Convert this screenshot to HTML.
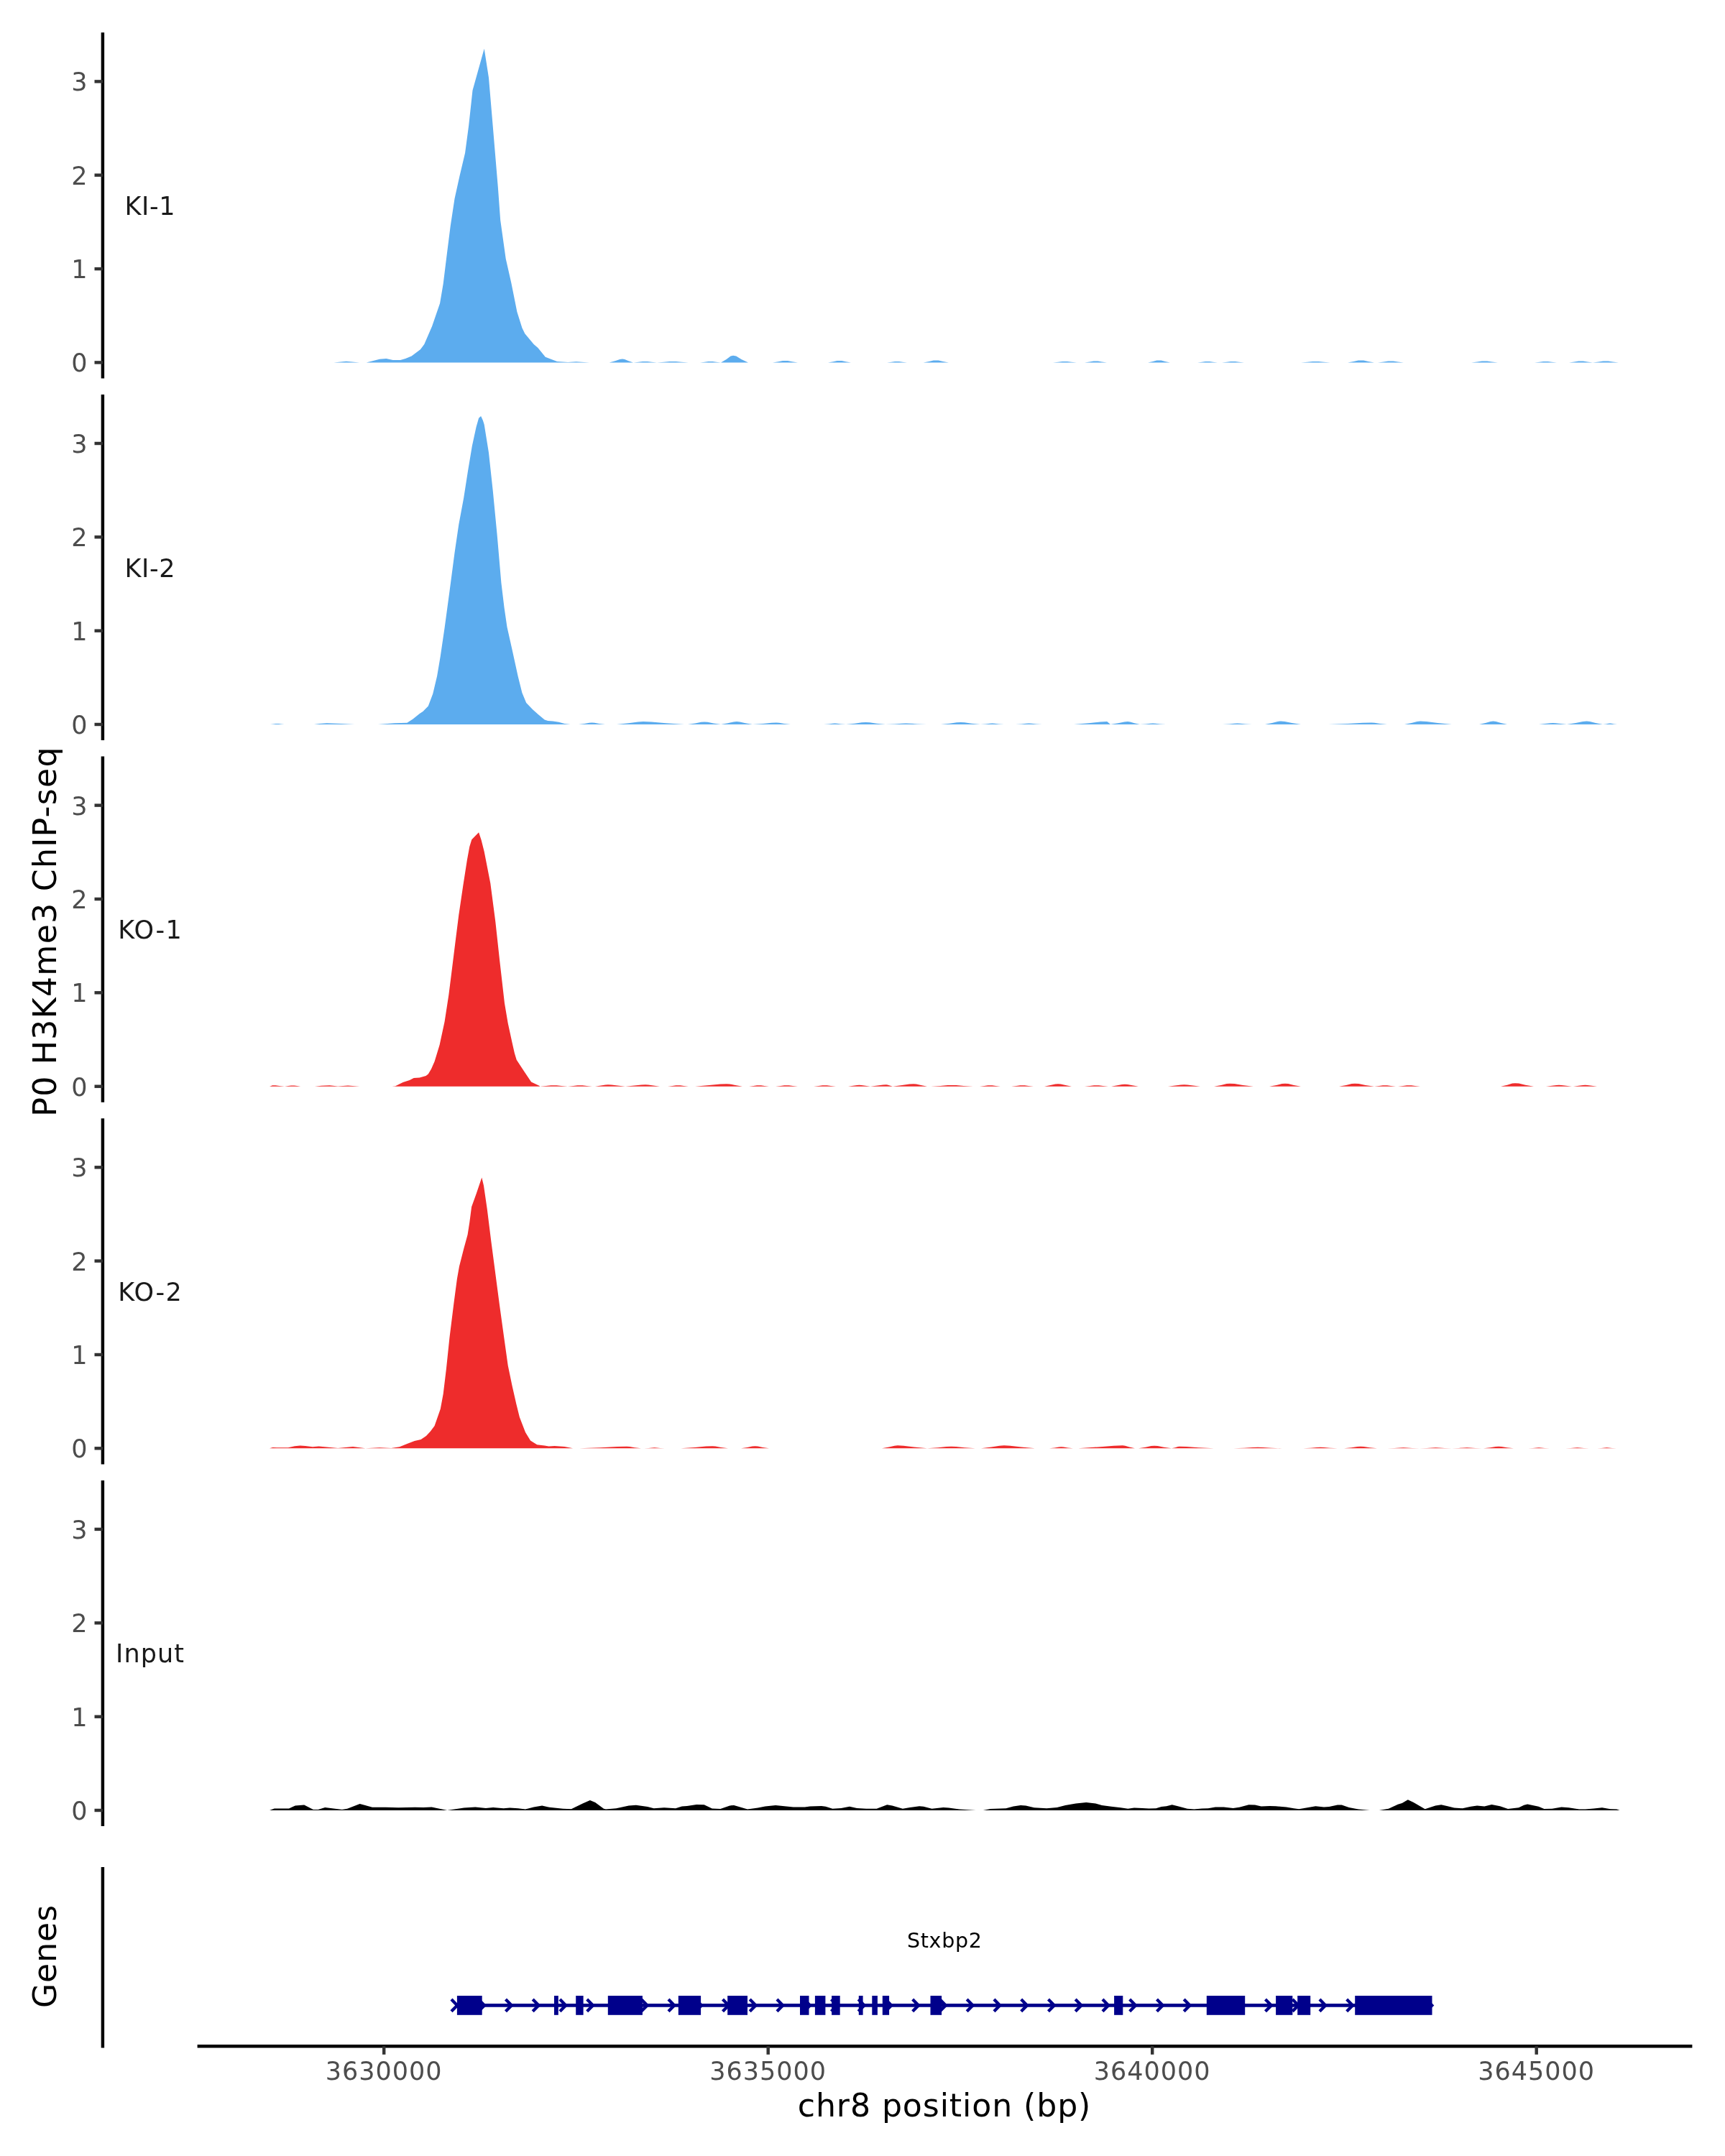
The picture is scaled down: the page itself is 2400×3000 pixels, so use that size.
<!DOCTYPE html>
<html lang="en">
<head>
<meta charset="utf-8">
<title>P0 H3K4me3 ChIP-seq - chr8 Stxbp2 locus</title>
<style>
html,body{margin:0;padding:0;background:#fff;}
body{width:2400px;height:3000px;overflow:hidden;}
svg{display:block;will-change:transform;}
text{font-family:"DejaVu Sans", "Liberation Sans", sans-serif;}
.tick{fill:#4D4D4D;font-size:35.0px;}
.xt{letter-spacing:1px;}
.lab{fill:#1A1A1A;font-size:35.0px;letter-spacing:0.6px;}
.ttl{fill:#000;font-size:44.2px;letter-spacing:0.9px;}
.gene{fill:#000;font-size:28.5px;letter-spacing:0.72px;}
.ax{stroke:#000;stroke-width:4.45;fill:none;}
.tk{stroke:#333;stroke-width:4.45;fill:none;}
</style>
</head>
<body>
<svg width="2400" height="3000" viewBox="0 0 2400 3000">
<rect width="2400" height="3000" fill="#fff"/>
<!-- track KI-1 -->
<g>
<path d="M464.3,504.4L464.3,504.4L481.7,502.8L500.3,504.4L509.6,504.4L528.1,499.8L537.4,499.1L546.7,500.9L557.1,500.9L564.1,499.1L572.6,495.6L584.9,486.3L590.3,478.9L601.2,453.8L612.1,422.1L616.7,394.7L621.3,357.6L626.7,314.7L632.5,276.5L639.4,245.2L647.1,212.7L652.2,174.4L657.5,125.7L673.7,67.8L680,108.3L685.8,176.7L692.8,260.2L696.2,306.6L703.7,359.9L711.3,393.6L719.4,434.1L726.4,456.2L730.3,464.3L742.6,478.9L748.4,484L758.8,496.7L775.1,503L790.1,503.9L801.7,503.2L820.3,504.4L847.6,504.4L855.9,502.2L862.3,500L866,499.6L869.1,500L874.5,502.2L881,504.4L881.5,504.4L888.4,503.7L894.2,503L897.5,502.9L900.8,503L906.6,503.7L914,504.4L914,504.4L923.9,503.7L931.6,503L936,502.9L940.4,503L948.1,503.7L958,504.4L974,504.4L980.5,503.7L985.6,503L988.5,502.9L991.4,503L996.5,503.7L1003,504.4L1003,504.4L1010.6,500L1016.6,495.5L1020,494.7L1024.2,495.5L1031.5,500L1041,504.4L1075,504.4L1082.9,503.3L1089,502.1L1092.5,501.9L1096,502.1L1102.1,503.3L1110,504.4L1152,504.4L1159.2,503.3L1164.8,502.1L1168,501.9L1171.2,502.1L1176.8,503.3L1184,504.4L1234,504.4L1240.3,503.7L1245.2,503L1248,502.9L1250.8,503L1255.7,503.7L1262,504.4L1284.6,504.4L1292.6,503.1L1298.8,501.6L1302.3,501.4L1305.8,501.6L1312,503.1L1320,504.4L1465,504.4L1472.4,503.7L1478.2,503L1481.5,502.9L1484.8,503L1490.6,503.7L1498,504.4L1509,504.4L1516,503.5L1521.4,502.6L1524.5,502.4L1527.6,502.6L1533,503.5L1540,504.4L1597,504.4L1604,503.1L1609.4,501.6L1612.5,501.4L1615.6,501.6L1621,503.1L1628,504.4L1666,504.4L1672.3,503.7L1677.2,503L1680,502.9L1682.8,503L1687.7,503.7L1694,504.4L1700,504.4L1707,503.7L1712.4,503L1715.5,502.9L1718.6,503L1724,503.7L1731,504.4L1810,504.4L1819.2,503.7L1826.4,503L1830.5,502.9L1834.6,503L1841.8,503.7L1851,504.4L1875,504.4L1883.3,503.1L1889.8,501.6L1893.5,501.4L1897.2,501.6L1903.7,503.1L1912,504.4L1917,504.4L1925.1,503.5L1931.4,502.6L1935,502.4L1938.6,502.6L1944.9,503.5L1953,504.4L2047,504.4L2055.3,503.5L2061.8,502.6L2065.5,502.4L2069.2,502.6L2075.7,503.5L2084,504.4L2135,504.4L2142,503.7L2147.4,503L2150.5,502.9L2153.6,503L2159,503.7L2166,504.4L2183,504.4L2190.4,503.5L2196.2,502.6L2199.5,502.4L2202.8,502.6L2208.6,503.5L2216,504.4L2216,504.4L2224.1,503.5L2230.4,502.6L2234,502.4L2237.6,502.6L2243.9,503.5L2252,504.4L2252,504.4Z" fill="#5CACEE"/>
<line class="ax" x1="142.9" y1="45.3" x2="142.9" y2="526.5"/>
<line class="tk" x1="131.5" y1="504.4" x2="142.9" y2="504.4"/>
<text class="tick" x="121.6" y="517.4" text-anchor="end">0</text>
<line class="tk" x1="131.5" y1="374.1" x2="142.9" y2="374.1"/>
<text class="tick" x="121.6" y="387.1" text-anchor="end">1</text>
<line class="tk" x1="131.5" y1="243.7" x2="142.9" y2="243.7"/>
<text class="tick" x="121.6" y="256.7" text-anchor="end">2</text>
<line class="tk" x1="131.5" y1="113.4" x2="142.9" y2="113.4"/>
<text class="tick" x="121.6" y="126.4" text-anchor="end">3</text>
<text class="lab" style="letter-spacing:0.6px" x="208.8" y="299" text-anchor="middle">KI-1</text>
</g>
<!-- track KI-2 -->
<g>
<path d="M376,1008L376,1008L380.4,1007.6L383.8,1007.1L385.8,1007L387.7,1007.1L391.1,1007.6L395.5,1008L437,1008L444.6,1006.9L454.6,1006.2L474.8,1007.1L493.3,1008L525.8,1008L549,1006.2L566.4,1005.7L574.5,1000.6L583.8,993L588.4,990L595.8,982.5L602.3,965.2L608.1,940.8L612.8,913L618.6,873.6L625.5,822.5L632.5,769.2L638.3,729.8L645.2,692.7L651,655.6L656.8,620.8L662.6,594.1L666.1,581.8L669.1,579.1L671.9,584.9L673.7,590.7L680,630.1L685.8,683.4L691.6,743.7L697.4,810.9L701.6,845.7L705.5,872.4L712.5,903.7L720.6,940.8L726.4,964L732.2,977.9L741.4,987.6L748.4,993.7L757.7,1001.6L762.3,1002.9L769.3,1003.4L777.4,1004.8L785.5,1007.1L793.6,1008L805,1008L813.3,1006.9L819.8,1005.8L823.5,1005.5L827.2,1005.8L833.7,1006.9L842,1008L858,1008L874.6,1006.2L887.6,1004.4L895,1004L906.4,1004.4L926.4,1006.2L952,1008L957,1008L967.4,1006.5L975.4,1004.8L980,1004.5L984.6,1004.8L992.6,1006.5L1003,1008L1003,1008L1012.9,1006.2L1020.6,1004.4L1025,1004L1029.4,1004.4L1037.1,1006.2L1047,1008L1047,1008L1061.8,1006.9L1073.4,1005.8L1080,1005.5L1084,1005.8L1091,1006.9L1100,1008L1146,1008L1153,1007.4L1158.4,1006.7L1161.5,1006.5L1164.6,1006.7L1170,1007.4L1177,1008L1177,1008L1189.4,1006.7L1199,1005.3L1204.5,1005L1210,1005.3L1219.6,1006.7L1232,1008L1232,1008L1244.8,1007.4L1254.8,1006.7L1260.5,1006.5L1266.2,1006.7L1276.2,1007.4L1289,1008L1309,1008L1321.4,1006.7L1331,1005.3L1336.5,1005L1342,1005.3L1351.6,1006.7L1364,1008L1364,1008L1371.4,1007.4L1377.2,1006.7L1380.5,1006.5L1383.8,1006.7L1389.6,1007.4L1397,1008L1413,1008L1421.3,1007.4L1427.8,1006.7L1431.5,1006.5L1435.2,1006.7L1441.7,1007.4L1450,1008L1494,1008L1514.7,1006.2L1530.8,1004.4L1540,1004L1541,1004.4L1542.8,1006.2L1545,1008L1545,1008L1555.8,1006.2L1564.2,1004.4L1569,1004L1572.4,1004.4L1578.3,1006.2L1586,1008L1586,1008L1594.1,1007.4L1600.4,1006.7L1604,1006.5L1607.6,1006.7L1613.9,1007.4L1622,1008L1701,1008L1710.2,1007.4L1717.4,1006.7L1721.5,1006.5L1725.6,1006.7L1732.8,1007.4L1742,1008L1760,1008L1769.9,1006L1777.6,1003.9L1782,1003.5L1787.6,1003.9L1797.4,1006L1810,1008L1848,1008L1875,1006.9L1896,1005.8L1908,1005.5L1912.4,1005.8L1920.1,1006.9L1930,1008L1954,1008L1963.9,1006L1971.6,1003.9L1976,1003.5L1984.8,1003.9L2000.2,1006L2020,1008L2058,1008L2066.8,1006L2073.6,1003.9L2077.5,1003.5L2081.4,1003.9L2088.2,1006L2097,1008L2141,1008L2149.8,1007.1L2156.6,1006.2L2160.5,1006L2164.4,1006.2L2171.2,1007.1L2180,1008L2180,1008L2192.4,1006L2202.1,1003.9L2207.6,1003.5L2212.1,1003.9L2219.9,1006L2230,1008L2230,1008L2234.5,1007.4L2238,1006.7L2240,1006.5L2242,1006.7L2245.5,1007.4L2250,1008L2250,1008Z" fill="#5CACEE"/>
<line class="ax" x1="142.9" y1="548.9" x2="142.9" y2="1030.1"/>
<line class="tk" x1="131.5" y1="1008" x2="142.9" y2="1008"/>
<text class="tick" x="121.6" y="1021" text-anchor="end">0</text>
<line class="tk" x1="131.5" y1="877.7" x2="142.9" y2="877.7"/>
<text class="tick" x="121.6" y="890.7" text-anchor="end">1</text>
<line class="tk" x1="131.5" y1="747.3" x2="142.9" y2="747.3"/>
<text class="tick" x="121.6" y="760.3" text-anchor="end">2</text>
<line class="tk" x1="131.5" y1="617" x2="142.9" y2="617"/>
<text class="tick" x="121.6" y="630" text-anchor="end">3</text>
<text class="lab" style="letter-spacing:0.6px" x="208.8" y="802.5" text-anchor="middle">KI-2</text>
</g>
<!-- track KO-1 -->
<g>
<path d="M375,1511.7L375,1511.7L377.2,1511L379,1510.3L380,1510.2L383.2,1510.3L388.8,1511L396,1511.7L396,1511.7L401,1511.1L405,1510.5L407.2,1510.4L409.4,1510.5L413.4,1511.1L418.4,1511.7L437.9,1511.7L447,1510.8L458.6,1510.3L470.1,1511.5L484.1,1510.5L500.3,1511.7L545.5,1511.7L550.1,1511.2L560.6,1506.1L569.9,1503.1L575.7,1500.1L583.8,1499.4L592.6,1497.1L595.8,1494.5L600,1487.6L604.6,1477.1L611.6,1454L618.6,1421.5L624.3,1384.4L629,1347.3L633.6,1310.2L638.3,1273.1L644.1,1233.7L649.9,1196.6L653.3,1178L656.3,1168.3L666.1,1158.3L669.6,1168.7L673.7,1185L682.3,1229L689.3,1282.4L695.1,1335.7L702,1396L706.7,1423.8L712.5,1450.5L715.9,1465.6L718.7,1474.8L728.7,1489.9L739.1,1505.4L750.7,1511L751,1511.7L759.8,1511L766.6,1510.3L770.5,1510.2L774.4,1510.3L781.2,1511L790,1511.7L790,1511.7L797.6,1511L803.6,1510.3L807,1510.2L810.4,1510.3L816.4,1511L824,1511.7L828,1511.7L836.1,1510.6L842.4,1509.4L846,1509.2L850.8,1509.4L859.2,1510.6L870,1511.7L870,1511.7L882.6,1510.6L892.4,1509.4L898,1509.2L902,1509.4L909,1510.6L918,1511.7L929,1511.7L935.5,1511L940.6,1510.3L943.5,1510.2L946.4,1510.3L951.5,1511L958,1511.7L967,1511.7L986.8,1510.1L1002.2,1508.5L1011,1508.2L1015.4,1508.5L1023.1,1510.1L1033,1511.7L1042,1511.7L1048.3,1511L1053.2,1510.3L1056,1510.2L1058.8,1510.3L1063.7,1511L1070,1511.7L1079,1511.7L1086,1511L1091.4,1510.3L1094.5,1510.2L1097.6,1510.3L1103,1511L1110,1511.7L1132,1511.7L1139,1511L1144.4,1510.3L1147.5,1510.2L1150.6,1510.3L1156,1511L1163,1511.7L1180,1511.7L1187,1510.8L1192.4,1509.9L1195.5,1509.7L1198.6,1509.9L1204,1510.8L1211,1511.7L1211,1511.7L1220.9,1510.6L1228.6,1509.4L1233,1509.2L1234.8,1509.4L1238,1510.6L1242,1511.7L1242,1511.7L1255,1510.1L1265.2,1508.5L1271,1508.2L1274.8,1508.5L1281.5,1510.1L1290,1511.7L1295,1511.7L1308.3,1510.9L1318.6,1510L1324.5,1509.9L1330.4,1510L1340.7,1510.9L1354,1511.7L1363,1511.7L1369.5,1511L1374.6,1510.3L1377.5,1510.2L1380.4,1510.3L1385.5,1511L1392,1511.7L1407,1511.7L1414,1511L1419.4,1510.3L1422.5,1510.2L1425.6,1510.3L1431,1511L1438,1511.7L1453,1511.7L1461.5,1510.1L1468.2,1508.5L1472,1508.2L1475.8,1508.5L1482.5,1510.1L1491,1511.7L1509,1511.7L1516.4,1511L1522.2,1510.3L1525.5,1510.2L1528.8,1510.3L1534.6,1511L1542,1511.7L1546,1511.7L1554.5,1510.3L1561.2,1508.9L1565,1508.7L1568.8,1508.9L1575.5,1510.3L1584,1511.7L1625,1511.7L1635.1,1510.6L1643,1509.4L1647.5,1509.2L1652,1509.4L1659.9,1510.6L1670,1511.7L1689,1511.7L1698.9,1509.9L1706.6,1508L1711,1507.7L1717.6,1508L1729.2,1509.9L1744,1511.7L1766,1511.7L1775.9,1509.9L1783.6,1508L1788,1507.7L1792.4,1508L1800.1,1509.9L1810,1511.7L1863,1511.7L1872.9,1509.9L1880.6,1508L1885,1507.7L1890.4,1508L1899.8,1509.9L1912,1511.7L1912,1511.7L1918.8,1511L1924,1510.3L1927,1510.2L1930,1510.3L1935.2,1511L1942,1511.7L1945,1511.7L1952,1511L1957.4,1510.3L1960.5,1510.2L1963.6,1510.3L1969,1511L1976,1511.7L2088,1511.7L2097,1509.7L2104,1507.6L2108,1507.2L2113.2,1507.6L2122.3,1509.7L2134,1511.7L2151,1511.7L2159.1,1510.8L2165.4,1509.9L2169,1509.7L2172.6,1509.9L2178.9,1510.8L2187,1511.7L2189,1511.7L2196.4,1510.8L2202.2,1509.9L2205.5,1509.7L2208.8,1509.9L2214.6,1510.8L2222,1511.7L2222,1511.7Z" fill="#EE2C2C"/>
<line class="ax" x1="142.9" y1="1052.6" x2="142.9" y2="1533.8"/>
<line class="tk" x1="131.5" y1="1511.7" x2="142.9" y2="1511.7"/>
<text class="tick" x="121.6" y="1524.7" text-anchor="end">0</text>
<line class="tk" x1="131.5" y1="1381.3" x2="142.9" y2="1381.3"/>
<text class="tick" x="121.6" y="1394.3" text-anchor="end">1</text>
<line class="tk" x1="131.5" y1="1251" x2="142.9" y2="1251"/>
<text class="tick" x="121.6" y="1264" text-anchor="end">2</text>
<line class="tk" x1="131.5" y1="1120.6" x2="142.9" y2="1120.6"/>
<text class="tick" x="121.6" y="1133.6" text-anchor="end">3</text>
<text class="lab" style="letter-spacing:1.4px" x="209.2" y="1306" text-anchor="middle">KO-1</text>
</g>
<!-- track KO-2 -->
<g>
<path d="M375,2015.3L375,2015.3L379.5,2013.9L385,2014.3L401,2014.3L410,2012.3L417.7,2011.6L425,2012.1L435,2013.3L443.5,2012.5L470.1,2015.1L491,2013L508.4,2015.3L528.1,2014.2L544.3,2014.9L555.9,2013.3L566.4,2009.1L576.8,2005.1L585.6,2003.1L593,1998L598.8,1991.7L604.6,1984L612.8,1960.4L616.7,1939.5L620.9,1904.7L625.5,1860.7L631.3,1814.3L635.9,1779.5L639,1762.1L645.2,1737.8L650.6,1718.1L653.3,1700.7L656.1,1679.3L662.6,1661.3L670.3,1638.5L673,1649.7L677.7,1682.1L683.5,1728.5L689.3,1772.6L695.1,1816.6L700.9,1858.4L706.7,1900.1L712.5,1927.9L718.3,1953.4L722.9,1972L731,1992.9L738,2004.5L747.2,2010.2L757.7,2011.4L763.5,2012.6L771.6,2011.9L785.5,2013L797.1,2015.3L806,2015.3L835.7,2014.2L858.8,2013L872,2012.8L876,2013L883,2014.2L892,2015.3L896,2015.3L902.5,2014.9L907.6,2014.4L910.5,2014.3L913.4,2014.4L918.5,2014.9L925,2015.3L947,2015.3L966.8,2014L982.2,2012.6L991,2012.3L995.4,2012.6L1003.1,2014L1013,2015.3L1031,2015.3L1039.8,2014L1046.6,2012.6L1050.5,2012.3L1054.4,2012.6L1061.2,2014L1070,2015.3L1227,2015.3L1236.9,2013.5L1244.6,2011.7L1249,2011.3L1257.2,2011.7L1271.5,2013.5L1290,2015.3L1290,2015.3L1305.1,2014.2L1316.8,2013L1323.5,2012.8L1330.2,2013L1341.9,2014.2L1357,2015.3L1365,2015.3L1379.4,2013.5L1390.6,2011.7L1397,2011.3L1405.6,2011.7L1420.7,2013.5L1440,2015.3L1460,2015.3L1467.4,2014.4L1473.2,2013.5L1476.5,2013.3L1479.8,2013.5L1485.6,2014.4L1493,2015.3L1500,2015.3L1527.9,2013.5L1549.6,2011.7L1562,2011.3L1565.4,2011.7L1571.3,2013.5L1579,2015.3L1584,2015.3L1593.9,2013.8L1601.6,2012.1L1606,2011.8L1610.8,2012.1L1619.2,2013.8L1630,2015.3L1630,2015.3L1635,2014.2L1638.8,2013L1641,2012.8L1650.6,2013L1667.4,2014.2L1689,2015.3L1716,2015.3L1731.3,2014.7L1743.2,2014L1750,2013.8L1756.8,2014L1768.7,2014.7L1784,2015.3L1813,2015.3L1823.8,2014.7L1832.2,2014L1837,2013.8L1841.8,2014L1850.2,2014.7L1861,2015.3L1870,2015.3L1880.3,2014.2L1888.4,2013L1893,2012.8L1897.6,2013L1905.7,2014.2L1916,2015.3L1930,2015.3L1940.1,2014.9L1948,2014.4L1952.5,2014.3L1957,2014.4L1964.9,2014.9L1975,2015.3L1975,2015.3L1985.1,2014.9L1993,2014.4L1997.5,2014.3L2002,2014.4L2009.9,2014.9L2020,2015.3L2020,2015.3L2029.5,2014.9L2036.8,2014.4L2041,2014.3L2045.2,2014.4L2052.6,2014.9L2062,2015.3L2064,2015.3L2073.4,2014.2L2080.8,2013L2085,2012.8L2089.2,2013L2096.6,2014.2L2106,2015.3L2126,2015.3L2132.8,2014.9L2138,2014.4L2141,2014.3L2144,2014.4L2149.2,2014.9L2156,2015.3L2178,2015.3L2185.4,2014.9L2191.2,2014.4L2194.5,2014.3L2197.8,2014.4L2203.6,2014.9L2211,2015.3L2222,2015.3L2228.1,2014.9L2232.8,2014.4L2235.5,2014.3L2238.2,2014.4L2242.9,2014.9L2249,2015.3L2249,2015.3Z" fill="#EE2C2C"/>
<line class="ax" x1="142.9" y1="1556.2" x2="142.9" y2="2037.4"/>
<line class="tk" x1="131.5" y1="2015.3" x2="142.9" y2="2015.3"/>
<text class="tick" x="121.6" y="2028.3" text-anchor="end">0</text>
<line class="tk" x1="131.5" y1="1885" x2="142.9" y2="1885"/>
<text class="tick" x="121.6" y="1898" text-anchor="end">1</text>
<line class="tk" x1="131.5" y1="1754.6" x2="142.9" y2="1754.6"/>
<text class="tick" x="121.6" y="1767.6" text-anchor="end">2</text>
<line class="tk" x1="131.5" y1="1624.3" x2="142.9" y2="1624.3"/>
<text class="tick" x="121.6" y="1637.3" text-anchor="end">3</text>
<text class="lab" style="letter-spacing:1.4px" x="209.2" y="1809.7" text-anchor="middle">KO-2</text>
</g>
<!-- track Input -->
<g>
<path d="M375.1,2519L375.1,2519L381.7,2516.4L402,2516.4L410.7,2512.4L423.2,2511.5L435.9,2517.9L442.6,2517.9L452.2,2515L475.9,2517.9L483.2,2516.7L500.6,2510.1L518,2514.7L536.8,2514.7L554.2,2515.3L577.4,2514.7L589,2515L600.6,2514.4L622.3,2519L645.5,2515.6L661.4,2514.4L675.9,2515.9L686.1,2515L700.6,2516.2L709.3,2515.6L720.9,2516.2L731,2517.6L742.6,2514.4L754.2,2512.4L764.3,2514.7L783.2,2516.7L794.8,2517.3L810.7,2509.5L820.9,2505.1L828.1,2508L840,2516.7L842.9,2517.6L857.4,2516.2L874.8,2512.4L884.9,2511.8L900.9,2514.1L909.6,2516.2L924.1,2515.3L940,2516.2L948.7,2513.6L955.9,2513L969,2510.9L979.7,2511.2L990.7,2516.4L1002.3,2517L1015.4,2512.4L1021.2,2512.1L1040,2517.6L1054.5,2515.6L1064.6,2513.6L1079.1,2512.1L1103.8,2514.4L1119.7,2514.4L1127,2513.6L1142.9,2513L1148.7,2513.8L1158.3,2516.7L1170.4,2515.9L1182,2513.8L1192.2,2515.9L1205.2,2516.7L1219.7,2516.7L1234.2,2511.2L1241.4,2512.4L1255.9,2516.7L1266.1,2515L1279.1,2513.3L1284.9,2513.8L1296.5,2516.7L1312.5,2515L1320,2515.6L1334.5,2517.6L1357.7,2519L1367.8,2519L1378,2517L1399.7,2516.2L1409.9,2513.6L1420,2512.1L1427.2,2512.4L1438.8,2515.3L1456.2,2516.2L1470.7,2515L1482.3,2512.1L1496.8,2509.5L1511.3,2508L1524.3,2509.5L1533,2512.1L1546.1,2513.8L1559.1,2515.3L1569.3,2516.7L1578,2515.6L1589.6,2515.9L1598.3,2516.4L1608.4,2516.2L1615.7,2514.1L1622.9,2513.3L1630.7,2511.2L1638.8,2513.3L1651.9,2516.7L1661.4,2517.6L1672.2,2516.4L1680.9,2516.2L1691,2514.4L1702.6,2514.4L1715.7,2515.9L1724.3,2514.7L1737.4,2511.2L1746.1,2511.5L1754.8,2513.6L1766.4,2513L1775.1,2513.3L1789.6,2514.4L1800,2516.2L1807.2,2517.3L1817.4,2515.6L1830.4,2513.3L1842,2514.4L1849.3,2514.1L1860.9,2511.5L1866.7,2511.5L1876.8,2515L1889.9,2517.6L1905.8,2519L1918.8,2519L1931.9,2516.7L1944.9,2510.7L1950.7,2508.9L1958.8,2504.3L1966.7,2508L1982.6,2517.3L1997.1,2512.4L2005.2,2511.2L2013,2513L2023.2,2515.6L2034.8,2516.2L2046.4,2513.8L2055.1,2512.4L2065.2,2513.6L2075.4,2510.9L2087,2513.3L2098,2517L2113,2515.3L2120.3,2511.8L2125.2,2510.4L2140.6,2513.8L2148.4,2517L2159.4,2516.7L2172.5,2514.4L2182.6,2515.3L2197.1,2517.6L2205.8,2517.6L2217.4,2516.4L2229,2515.3L2240.6,2517.3L2249.3,2517.6L2253.6,2519L2253.6,2519Z" fill="#000000"/>
<line class="ax" x1="142.9" y1="2059.9" x2="142.9" y2="2541.1"/>
<line class="tk" x1="131.5" y1="2519" x2="142.9" y2="2519"/>
<text class="tick" x="121.6" y="2532" text-anchor="end">0</text>
<line class="tk" x1="131.5" y1="2388.7" x2="142.9" y2="2388.7"/>
<text class="tick" x="121.6" y="2401.7" text-anchor="end">1</text>
<line class="tk" x1="131.5" y1="2258.3" x2="142.9" y2="2258.3"/>
<text class="tick" x="121.6" y="2271.3" text-anchor="end">2</text>
<line class="tk" x1="131.5" y1="2127.9" x2="142.9" y2="2127.9"/>
<text class="tick" x="121.6" y="2140.9" text-anchor="end">3</text>
<text class="lab" style="letter-spacing:1.1px" x="209.1" y="2313.1" text-anchor="middle">Input</text>
</g>
<text class="ttl" style="letter-spacing:1.27px" transform="translate(78.2,1296) rotate(-90)" text-anchor="middle">P0 H3K4me3 ChIP-seq</text>
<!-- gene annotation -->
<g>
<line class="ax" x1="142.9" y1="2598" x2="142.9" y2="2849.5"/>
<text class="ttl" transform="translate(78.2,2722) rotate(-90)" text-anchor="middle">Genes</text>
<line x1="636.5" y1="2790.4" x2="1992" y2="2790.4" stroke="#00008B" stroke-width="4.8"/>
<path d="M628,2782.1L636.2,2790.4L628,2798.7M665.7,2782.1L674,2790.4L665.7,2798.7M703.5,2782.1L711.8,2790.4L703.5,2798.7M741.2,2782.1L749.5,2790.4L741.2,2798.7M779,2782.1L787.2,2790.4L779,2798.7M816.7,2782.1L825,2790.4L816.7,2798.7M854.5,2782.1L862.8,2790.4L854.5,2798.7M892.2,2782.1L900.5,2790.4L892.2,2798.7M930,2782.1L938.2,2790.4L930,2798.7M967.7,2782.1L976,2790.4L967.7,2798.7M1005.5,2782.1L1013.8,2790.4L1005.5,2798.7M1043.2,2782.1L1051.5,2790.4L1043.2,2798.7M1081,2782.1L1089.2,2790.4L1081,2798.7M1118.7,2782.1L1127,2790.4L1118.7,2798.7M1156.5,2782.1L1164.8,2790.4L1156.5,2798.7M1194.2,2782.1L1202.5,2790.4L1194.2,2798.7M1232,2782.1L1240.2,2790.4L1232,2798.7M1269.7,2782.1L1278,2790.4L1269.7,2798.7M1307.5,2782.1L1315.8,2790.4L1307.5,2798.7M1345.2,2782.1L1353.5,2790.4L1345.2,2798.7M1383,2782.1L1391.2,2790.4L1383,2798.7M1420.7,2782.1L1429,2790.4L1420.7,2798.7M1458.5,2782.1L1466.8,2790.4L1458.5,2798.7M1496.2,2782.1L1504.5,2790.4L1496.2,2798.7M1534,2782.1L1542.2,2790.4L1534,2798.7M1571.7,2782.1L1580,2790.4L1571.7,2798.7M1609.5,2782.1L1617.8,2790.4L1609.5,2798.7M1647.2,2782.1L1655.5,2790.4L1647.2,2798.7M1685,2782.1L1693.2,2790.4L1685,2798.7M1722.7,2782.1L1731,2790.4L1722.7,2798.7M1760.5,2782.1L1768.8,2790.4L1760.5,2798.7M1798.2,2782.1L1806.5,2790.4L1798.2,2798.7M1836,2782.1L1844.2,2790.4L1836,2798.7M1873.7,2782.1L1882,2790.4L1873.7,2798.7M1911.5,2782.1L1919.8,2790.4L1911.5,2798.7M1949.2,2782.1L1957.5,2790.4L1949.2,2798.7M1984,2782.1L1992.3,2790.4L1984,2798.7" stroke="#00008B" stroke-width="4.3" fill="none" stroke-linejoin="miter"/>
<rect x="635.9" y="2777" width="34.8" height="26.8" fill="#00008B"/>
<rect x="771" y="2777" width="5.8" height="26.8" fill="#00008B"/>
<rect x="801.2" y="2777" width="10.4" height="26.8" fill="#00008B"/>
<rect x="845.8" y="2777" width="48.1" height="26.8" fill="#00008B"/>
<rect x="943.8" y="2777" width="31.3" height="26.8" fill="#00008B"/>
<rect x="1012.2" y="2777" width="27.8" height="26.8" fill="#00008B"/>
<rect x="1113" y="2777" width="12.5" height="26.8" fill="#00008B"/>
<rect x="1133.9" y="2777" width="14.5" height="26.8" fill="#00008B"/>
<rect x="1157.1" y="2777" width="11.6" height="26.8" fill="#00008B"/>
<rect x="1194.8" y="2777" width="5.8" height="26.8" fill="#00008B"/>
<rect x="1213.3" y="2777" width="7.6" height="26.8" fill="#00008B"/>
<rect x="1227.8" y="2777" width="9.3" height="26.8" fill="#00008B"/>
<rect x="1294.5" y="2777" width="15.6" height="26.8" fill="#00008B"/>
<rect x="1550.1" y="2777" width="12.2" height="26.8" fill="#00008B"/>
<rect x="1678.8" y="2777" width="53.4" height="26.8" fill="#00008B"/>
<rect x="1775.1" y="2777" width="23.2" height="26.8" fill="#00008B"/>
<rect x="1805.2" y="2777" width="18" height="26.8" fill="#00008B"/>
<rect x="1885.2" y="2777" width="107.3" height="26.8" fill="#00008B"/>
<text class="gene" x="1314.3" y="2709.7" text-anchor="middle">Stxbp2</text>
</g>
<!-- x axis -->
<g>
<line class="ax" x1="274.6" y1="2847.3" x2="2354.4" y2="2847.3"/>
<line class="tk" x1="534.2" y1="2847.3" x2="534.2" y2="2858.8"/>
<text class="tick xt" x="534.1" y="2893.9" text-anchor="middle">3630000</text>
<line class="tk" x1="1068.7" y1="2847.3" x2="1068.7" y2="2858.8"/>
<text class="tick xt" x="1068.6" y="2893.9" text-anchor="middle">3635000</text>
<line class="tk" x1="1603.2" y1="2847.3" x2="1603.2" y2="2858.8"/>
<text class="tick xt" x="1603.1" y="2893.9" text-anchor="middle">3640000</text>
<line class="tk" x1="2137.7" y1="2847.3" x2="2137.7" y2="2858.8"/>
<text class="tick xt" x="2137.6" y="2893.9" text-anchor="middle">3645000</text>
<text class="ttl" x="1314" y="2944.5" text-anchor="middle">chr8 position (bp)</text>
</g>
</svg>
</body>
</html>
